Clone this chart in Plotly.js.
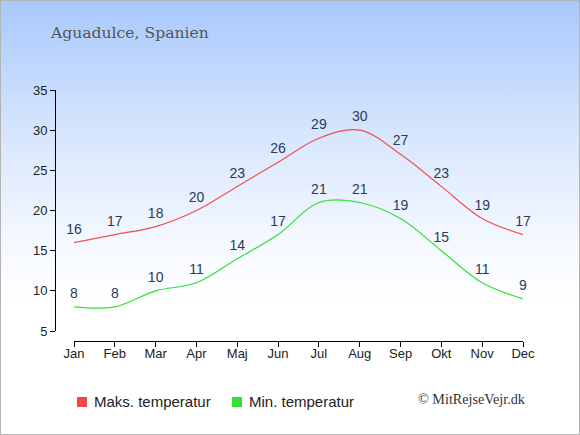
<!DOCTYPE html>
<html><head><meta charset="utf-8">
<script src="https://cdn.plot.ly/plotly-3.0.1.min.js"></script>
<style>
html,body{margin:0;padding:0;}
#chart{width:580px;height:435px;box-sizing:border-box;border:1px solid #b4b4b4;
background:linear-gradient(to bottom,#a8c9fc 0%,#d6e5fd 30%,#f4f8ff 55%,#ffffff 70%,#ffffff 100%);}
</style></head>
<body><div id="chart"></div>
<script>
const months = ["Jan","Feb","Mar","Apr","Maj","Jun","Jul","Aug","Sep","Okt","Nov","Dec"];
const maxTemp = [16,17,18,20,23,26,29,30,27,23,19,17];
const minTemp = [8,8,10,11,14,17,21,21,19,15,11,9];
const yTicks = [5,10,15,20,25,30,35];

const W=578, H=433;
const px = x => x/W, py = y => (H-y)/H;
const lblFont = {family:"Liberation Sans, Arial",size:14,color:"#2a3a5c"};

const traces = [
 {x:months,y:maxTemp,name:"Maks. temperatur",mode:"lines+markers+text",text:maxTemp.map(String),
  textposition:"top center",textfont:lblFont,cliponaxis:false,
  marker:{size:7,color:"rgba(0,0,0,0)"},
  line:{color:"#f05050",width:1.2,shape:"spline",smoothing:1},
  hoverinfo:"none"},
 {x:months,y:minTemp,name:"Min. temperatur",mode:"lines+markers+text",text:minTemp.map(String),
  textposition:"top center",textfont:lblFont,cliponaxis:false,
  marker:{size:7,color:"rgba(0,0,0,0)"},
  line:{color:"#33e033",width:1.2,shape:"spline",smoothing:1},
  hoverinfo:"none"}
];

const tickFont = {family:"Liberation Sans, Arial",size:13,color:"#222"};
const layout = {
 width:578,height:433,
 margin:{l:0,r:0,t:0,b:0},
 paper_bgcolor:"rgba(0,0,0,0)",plot_bgcolor:"rgba(0,0,0,0)",
 showlegend:false,
 title:{text:"Aguadulce, Spanien",x:px(50),xanchor:"left",y:py(32),yanchor:"middle",
  font:{family:"DejaVu Serif",size:15.6,color:"#555555"}},
 xaxis:{type:"category",range:[0,11],domain:[px(73),px(522)],anchor:"free",position:py(340),
  showline:true,linecolor:"#000",linewidth:1,ticks:"outside",ticklen:5,tickcolor:"#000",
  ticklabelstandoff:-5,
  showgrid:false,zeroline:false,fixedrange:true,tickfont:tickFont},
 yaxis:{range:[5,35],domain:[py(330),py(89)],anchor:"free",position:px(54),
  tickvals:yTicks,ticktext:yTicks.map(String),
  showline:true,linecolor:"#000",linewidth:1,ticks:"outside",ticklen:5,tickcolor:"#000",
  showgrid:false,zeroline:false,fixedrange:true,tickfont:tickFont},
 shapes:[
  {type:"rect",xref:"paper",yref:"paper",x0:px(76),x1:px(86),y0:py(396),y1:py(406),fillcolor:"#f04848",line:{width:0}},
  {type:"rect",xref:"paper",yref:"paper",x0:px(231),x1:px(241),y0:py(396),y1:py(406),fillcolor:"#33e033",line:{width:0}}
 ],
 annotations:[
  {text:"Maks. temperatur",xref:"paper",yref:"paper",x:px(91),y:py(400),xanchor:"left",yanchor:"middle",showarrow:false,
   font:{family:"Liberation Sans, Arial",size:15,color:"#222"}},
  {text:"Min. temperatur",xref:"paper",yref:"paper",x:px(246),y:py(400),xanchor:"left",yanchor:"middle",showarrow:false,
   font:{family:"Liberation Sans, Arial",size:15,color:"#222"}},
  {text:"© MitRejseVejr.dk",xref:"paper",yref:"paper",x:px(527),y:py(398),xanchor:"right",yanchor:"middle",showarrow:false,
   font:{family:"Liberation Serif",size:14.2,color:"#333"}}
 ]
};
Plotly.newPlot("chart",traces,layout,{staticPlot:true,displayModeBar:false});
</script></body></html>
